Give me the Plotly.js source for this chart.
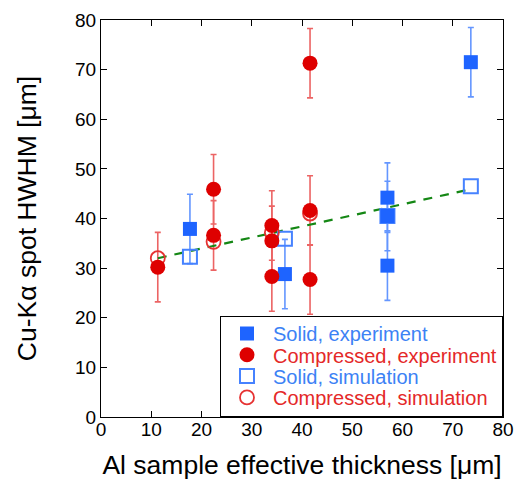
<!DOCTYPE html>
<html>
<head>
<meta charset="utf-8">
<script src="https://cdn.plot.ly/plotly-3.0.1.min.js"></script>
<style>html,body{margin:0;padding:0;background:#fff;}#chart{width:515px;height:483px;}</style>
</head>
<body>
<div id="chart"></div>
<script>
// Solid, experiment
var solidExpX = [17.7, 36.6, 57.0, 57.0, 57.0, 73.6];
var solidExpY = [37.9, 28.8, 44.2, 40.5, 30.5, 71.5];
var solidExpErr = [7, 7, 7, 7, 7, 7];
// Compressed, experiment
var compExpX = [11.3, 22.4, 22.4, 34.0, 34.0, 34.0, 41.6, 41.6, 41.6];
var compExpY = [30.2, 45.9, 36.6, 38.6, 35.5, 28.3, 71.3, 41.6, 27.7];
var compExpErr = [7, 7, 7, 7, 7, 7, 7, 7, 7];
// Solid, simulation
var solidSimX = [17.7, 36.6, 57.0, 73.6];
var solidSimY = [32.3, 35.9, 40.5, 46.5];
// Compressed, simulation
var compSimX = [11.3, 22.4, 34.0, 41.6];
var compSimY = [32.0, 35.3, 37.2, 41.0];
// Dashed trend line
var fitX = [11.3, 73.6];
var fitY = [32.0, 45.9];

var xTicks = [0, 10, 20, 30, 40, 50, 60, 70, 80];
var yTicks = [0, 10, 20, 30, 40, 50, 60, 70, 80];

var BLUE = 'rgb(30,100,255)';
var RED = 'rgb(222,0,0)';
var FONT = 'Liberation Sans, Arial, sans-serif';

var traces = [
  {x: solidExpX, y: solidExpY, type: 'scatter', mode: 'markers', showlegend: false, hoverinfo: 'skip',
   marker: {size: 1, color: 'rgba(0,0,0,0)'},
   error_y: {type: 'data', array: solidExpErr, visible: true, color: 'rgb(100,150,255)', thickness: 1.6, width: 3}},
  {x: compExpX, y: compExpY, type: 'scatter', mode: 'markers', showlegend: false, hoverinfo: 'skip',
   marker: {size: 1, color: 'rgba(0,0,0,0)'},
   error_y: {type: 'data', array: compExpErr, visible: true, color: 'rgb(236,100,100)', thickness: 1.6, width: 3}},
  {x: fitX, y: fitY, type: 'scatter', mode: 'lines', showlegend: false, hoverinfo: 'skip',
   line: {color: 'rgb(20,135,20)', width: 2.2, dash: '9px,8px'}},
  {x: solidSimX, y: solidSimY, type: 'scatter', mode: 'markers', name: 'Solid, simulation', legendrank: 3,
   marker: {symbol: 'square-open', size: 14, color: 'rgb(70,130,255)', line: {width: 2}}},
  {x: compSimX, y: compSimY, type: 'scatter', mode: 'markers', name: 'Compressed, simulation', legendrank: 4,
   marker: {symbol: 'circle-open', size: 14, color: 'rgb(230,50,50)', line: {width: 1.8}}},
  {x: solidExpX, y: solidExpY, type: 'scatter', mode: 'markers', name: 'Solid, experiment', legendrank: 1,
   marker: {symbol: 'square', size: 14, color: BLUE}},
  {x: compExpX, y: compExpY, type: 'scatter', mode: 'markers', name: 'Compressed, experiment', legendrank: 2,
   marker: {symbol: 'circle', size: 15, color: RED}}
];

var axisCommon = {
  showline: true, linecolor: '#000', linewidth: 1, mirror: 'ticks',
  ticks: 'inside', ticklen: 6, tickwidth: 1, tickcolor: '#000',
  showgrid: false, zeroline: false,
  tickfont: {family: FONT, size: 19, color: '#000'}
};

var layout = {
  width: 515, height: 483,
  margin: {l: 101, r: 12, t: 20, b: 66},
  paper_bgcolor: '#fff', plot_bgcolor: '#fff',
  font: {family: FONT, color: '#000'},
  xaxis: Object.assign({}, axisCommon, {
    range: [0, 80], tickvals: xTicks, ticktext: xTicks.map(String), ticklabelstandoff: -5,
    title: {text: 'Al sample effective thickness [μm]', font: {family: FONT, size: 26.5, color: '#000'}, standoff: 16}
  }),
  yaxis: Object.assign({}, axisCommon, {
    range: [0, 80], tickvals: yTicks, ticktext: yTicks.map(String),
    title: {text: 'Cu-Kα spot HWHM [μm]', font: {family: FONT, size: 26.5, color: '#000'}, standoff: 30}
  }),
  legend: {
    x: 1, y: 0, xanchor: 'right', yanchor: 'bottom',
    bgcolor: '#fff', bordercolor: '#000', borderwidth: 1,
    font: {family: FONT, size: 20},
    itemwidth: 42, tracegroupgap: 0
  },
  showlegend: true
};

function parseTr(s) {
  var m = /translate\(\s*([-\d.e]+)[\s,]+([-\d.e]+)\s*\)/.exec(s || '');
  return m ? [parseFloat(m[1]), parseFloat(m[2])] : [0, 0];
}

Plotly.newPlot('chart', traces, layout, {displayModeBar: false, staticPlot: true}).then(function () {
  var colors = {'Solid, experiment': 'rgb(60,130,245)', 'Compressed, experiment': 'rgb(228,40,40)',
                'Solid, simulation': 'rgb(60,130,245)', 'Compressed, simulation': 'rgb(228,40,40)'};
  document.querySelectorAll('.legendtext').forEach(function (t) {
    var c = colors[t.textContent];
    if (c) t.style.fill = c;
  });
  // tighten legend row spacing to match the reference's compact box
  var lg = document.querySelector('g.legend');
  if (!lg) return;
  var bg = lg.querySelector('rect.bg');
  var items = lg.querySelectorAll('g.traces');
  var oldH = parseFloat(bg.getAttribute('height'));
  var newH = 100, first = 17.5, step = 21.3;
  items.forEach(function (it, i) {
    var p = parseTr(it.getAttribute('transform'));
    it.setAttribute('transform', 'translate(' + p[0] + ',' + (first + i * step) + ')');
  });
  bg.setAttribute('height', newH);
  var lp = parseTr(lg.getAttribute('transform'));
  lg.setAttribute('transform', 'translate(' + lp[0] + ',' + (lp[1] + oldH - newH) + ')');
});
</script>
</body>
</html>
